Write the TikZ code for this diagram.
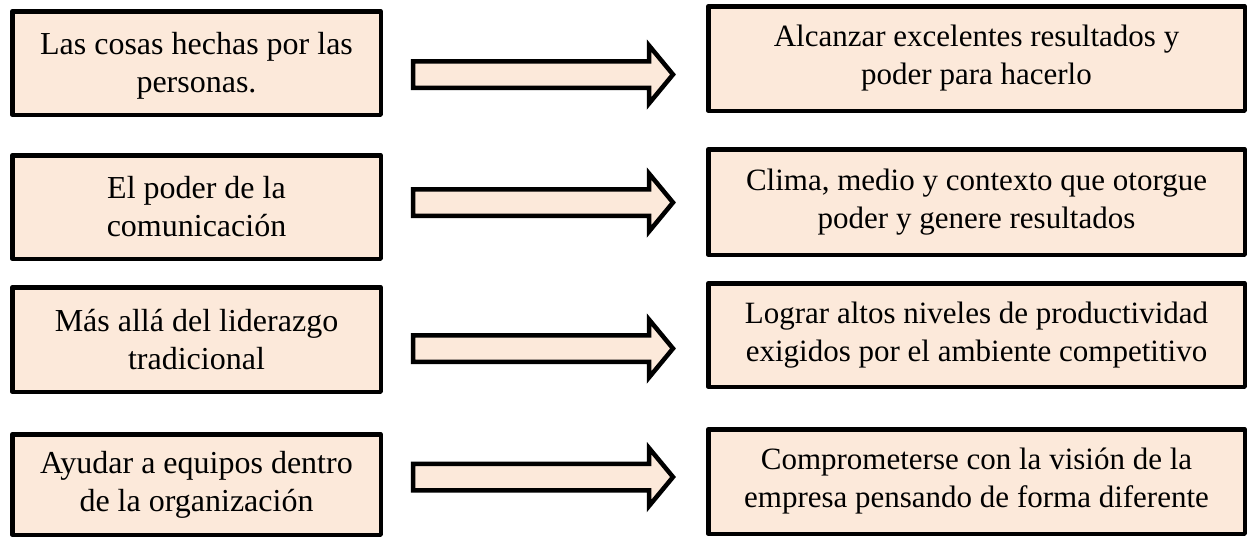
\documentclass[tikz,border=0pt]{standalone}
\usepackage{fontspec}
\setmainfont{Liberation Serif}
\definecolor{peach}{HTML}{FCE9DA}
\begin{document}
\begin{tikzpicture}[x=1pt,y=-1pt,
  box/.style={draw=black,fill=peach,line width=4.5pt,line join=round,
    inner sep=0pt,align=center},
  leftbox/.style={box,minimum width=368.5pt,font=\fontsize{32}{38}\selectfont},
  rightbox/.style={box,minimum width=536.5pt,font=\fontsize{31}{38}\selectfont},
  blockarrow/.pic={
    \draw[draw=black,fill=peach,line width=4.5pt,line join=miter]
      (0,-13.25) -- (236,-13.25) -- (236,-29) -- (260,0) -- (236,29)
      -- (236,13.25) -- (0,13.25) -- cycle;}]
\useasboundingbox (0,0) rectangle (1249,539);

% left column
\node[leftbox,minimum height=103.5pt] (l1) at (196.5,63) {};
\node[align=center,font=\fontsize{32}{38}\selectfont] (t1) at (196.5,66)
  {Las cosas hechas por las\\personas.};
\node[leftbox,minimum height=103.5pt] (l2) at (196.5,207)
  {El poder de la\\comunicación};
\node[leftbox,minimum height=104.5pt] (l3) at (196.5,339.5)
  {Más allá del liderazgo\\tradicional};
\node[leftbox,minimum height=100.5pt] (l4) at (196.5,484.5)
  {Ayudar a equipos dentro\\de la organización};

% right column
\node[rightbox,minimum height=104.5pt] (r1) at (976.5,58.5)
  {Alcanzar excelentes resultados y\\poder para hacerlo};
\node[rightbox,minimum height=105.5pt] (r2) at (976.5,202)
  {Clima, medio y contexto que otorgue\\poder y genere resultados};
\node[rightbox,minimum height=103.5pt] (r3) at (976.5,335)
  {Lograr altos niveles de productividad\\exigidos por el ambiente competitivo};
\node[rightbox,minimum height=104.5pt] (r4) at (976.5,481.5)
  {Comprometerse con la visión de la\\empresa pensando de forma diferente};

% block arrows between the columns
\pic at (413,74.5) {blockarrow};
\pic at (413,202.5) {blockarrow};
\pic at (413,348.5) {blockarrow};
\pic at (413,477) {blockarrow};
\end{tikzpicture}
\end{document}
